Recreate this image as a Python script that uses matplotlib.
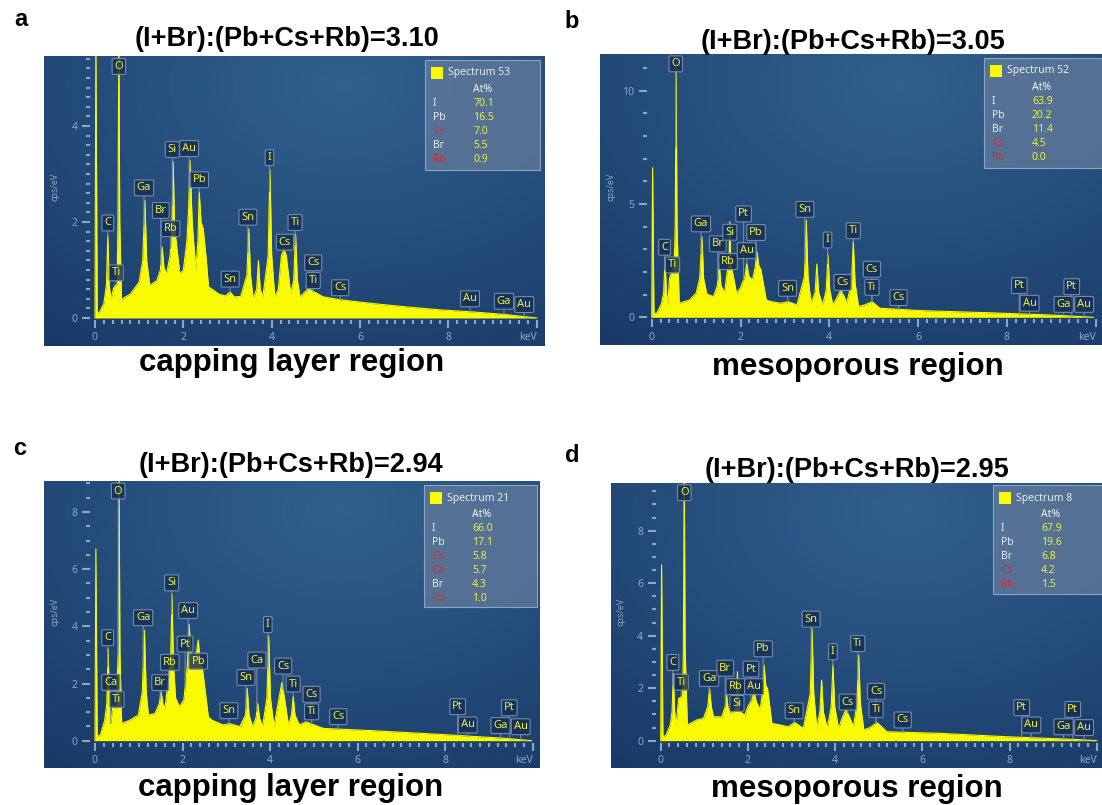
import numpy as np
import matplotlib.pyplot as plt
from matplotlib.patches import Rectangle
from matplotlib.ticker import MultipleLocator
from matplotlib.transforms import Affine2D

# ---------------- data ----------------
# (energy keV, counts cps/eV) vertices of each spectrum outline

# panel a - capping layer, Spectrum 53
spectrum_a = [(0.0, 0), (0.02, 6.0), (0.05, 0.1), (0.1, 0.12), (0.2, 0.3), (0.26, 0.7),
              (0.29, 1.72), (0.32, 0.7), (0.36, 0.38), (0.42, 0.62), (0.46, 0.68), (0.5, 0.7),
              (0.52, 2.0), (0.54, 6.0), (0.56, 2.0), (0.6, 0.37), (0.65, 0.42), (0.8, 0.5),
              (1.0, 0.75), (1.08, 1.2), (1.13, 2.45), (1.17, 1.2), (1.24, 0.68), (1.4, 0.78),
              (1.48, 1.0), (1.52, 1.48), (1.56, 1.05), (1.62, 0.92), (1.7, 1.3), (1.74, 1.9),
              (1.77, 3.25), (1.8, 1.9), (1.92, 0.92), (2.0, 1.0), (2.08, 1.6), (2.12, 2.3),
              (2.15, 3.28), (2.2, 2.0), (2.28, 1.0), (2.33, 1.6), (2.36, 2.63), (2.4, 2.0),
              (2.45, 1.86), (2.52, 1.2), (2.57, 0.65), (2.65, 0.6), (2.8, 0.5), (2.95, 0.46),
              (3.06, 0.54), (3.15, 0.44), (3.3, 0.45), (3.44, 0.9), (3.48, 1.86), (3.52, 0.9),
              (3.58, 0.4), (3.66, 0.6), (3.7, 1.2), (3.74, 0.6), (3.8, 0.44), (3.92, 1.3),
              (3.96, 3.08), (4.0, 1.3), (4.07, 0.44), (4.15, 0.6), (4.22, 1.3), (4.28, 1.44),
              (4.33, 1.3), (4.43, 0.5), (4.5, 0.8), (4.54, 1.76), (4.58, 0.8), (4.64, 0.44),
              (4.83, 0.61), (5.17, 0.44), (5.55, 0.38), (6.3, 0.3), (7.06, 0.23), (7.81, 0.17),
              (8.57, 0.125), (9.32, 0.07), (10.0, 0.0)]
peaks_a = ['O', 'C', 'Ti', 'Ga', 'Br', 'Rb', 'Si', 'Au', 'Pb', 'Sn', 'Sn', 'I', 'Ti', 'Cs',
           'Cs', 'Ti', 'Cs', 'Au', 'Ga', 'Au']
peak_kev_a = [0.54, 0.29, 0.48, 1.11, 1.49, 1.71, 1.75, 2.13, 2.36, 3.46, 3.06, 3.95, 4.53,
              4.30, 4.94, 4.94, 5.55, 8.49, 9.26, 9.72]
label_y_a = [5.24, 1.98, 0.94, 2.71, 2.24, 1.86, 3.51, 3.53, 2.88, 2.10, 0.81, 3.34, 1.99,
             1.58, 1.15, 0.78, 0.63, 0.40, 0.35, 0.28]
legend_el_a = ['I', 'Pb', 'Cs', 'Br', 'Rb']
legend_at_a = ['70.1', '16.5', '7.0', '5.5', '0.9']

# panel b - mesoporous, Spectrum 52
spectrum_b = [(0.0, 0), (0.02, 6.6), (0.05, 0.15), (0.12, 0.2), (0.22, 0.6), (0.27, 1.1),
              (0.3, 2.6), (0.33, 1.1), (0.36, 0.54), (0.4, 1.7), (0.45, 2.0), (0.5, 1.9),
              (0.53, 4.0), (0.55, 11.0), (0.57, 4.0), (0.62, 0.62), (0.85, 0.76), (1.0, 1.06),
              (1.08, 1.7), (1.13, 3.56), (1.17, 1.7), (1.24, 1.03), (1.39, 0.91), (1.48, 1.4),
              (1.52, 2.38), (1.56, 1.4), (1.64, 1.06), (1.7, 2.0), (1.74, 2.3), (1.76, 4.22),
              (1.78, 2.3), (1.83, 1.9), (1.91, 1.06), (2.0, 1.3), (2.1, 1.8), (2.14, 2.38),
              (2.19, 1.8), (2.27, 1.65), (2.33, 2.2), (2.37, 2.9), (2.41, 2.3), (2.46, 2.09),
              (2.58, 0.76), (2.7, 0.69), (2.9, 0.62), (3.08, 0.69), (3.27, 0.54), (3.44, 1.8),
              (3.48, 4.29), (3.52, 1.8), (3.59, 0.62), (3.68, 1.1), (3.72, 2.35), (3.76, 1.1),
              (3.85, 0.54), (3.93, 1.2), (3.97, 2.75), (4.01, 1.2), (4.08, 0.54), (4.18, 0.9),
              (4.26, 1.2), (4.34, 0.9), (4.39, 0.62), (4.5, 1.5), (4.54, 3.34), (4.58, 1.5),
              (4.66, 0.47), (4.8, 0.55), (4.96, 0.69), (5.14, 0.4), (6.12, 0.29), (7.62, 0.2),
              (9.12, 0.09), (9.95, 0.0)]
peaks_b = ['O', 'C', 'Ti', 'Ga', 'Br', 'Si', 'Rb', 'Pt', 'Au', 'Pb', 'Sn', 'I', 'Ti', 'Cs',
           'Cs', 'Ti', 'Sn', 'Cs', 'Pt', 'Au', 'Pt', 'Ga', 'Au']
peak_kev_b = [0.54, 0.29, 0.47, 1.11, 1.49, 1.76, 1.72, 2.07, 2.14, 2.35, 3.45, 3.96, 4.54,
              4.30, 4.96, 4.96, 3.06, 5.56, 8.28, 8.51, 9.46, 9.28, 9.74]
label_y_b = [11.18, 3.09, 2.31, 4.12, 3.24, 3.75, 2.46, 4.56, 2.94, 3.74, 4.76, 3.41, 3.82,
             1.54, 2.12, 1.32, 1.28, 0.87, 1.40, 0.62, 1.35, 0.57, 0.57]
legend_el_b = ['I', 'Pb', 'Br', 'Cs', 'Rb']
legend_at_b = ['63.9', '20.2', '11.4', '4.5', '0.0']

# panel c - capping layer, Spectrum 21
spectrum_c = [(0.0, 0), (0.02, 6.7), (0.05, 0.15), (0.12, 0.2), (0.22, 0.7), (0.27, 1.3),
              (0.3, 3.22), (0.33, 1.3), (0.36, 0.6), (0.41, 1.25), (0.48, 1.1), (0.53, 3.0),
              (0.55, 9.5), (0.57, 3.0), (0.61, 0.6), (0.8, 0.72), (0.99, 0.9), (1.08, 1.7),
              (1.13, 3.86), (1.17, 1.7), (1.22, 0.9), (1.37, 0.95), (1.47, 1.3), (1.51, 1.71),
              (1.55, 1.3), (1.6, 1.13), (1.7, 2.47), (1.73, 3.0), (1.76, 5.12), (1.79, 2.8),
              (1.84, 1.5), (1.93, 1.19), (2.03, 1.42), (2.11, 2.6), (2.15, 4.07), (2.2, 3.0),
              (2.29, 2.93), (2.33, 3.2), (2.36, 3.52), (2.4, 2.8), (2.46, 2.47), (2.59, 0.84),
              (2.67, 0.72), (2.93, 0.55), (3.07, 0.6), (3.31, 0.49), (3.44, 0.9), (3.48, 1.83),
              (3.52, 0.9), (3.6, 0.49), (3.68, 0.8), (3.72, 1.3), (3.76, 0.8), (3.83, 0.49),
              (3.93, 1.5), (3.97, 3.66), (4.01, 1.5), (4.09, 0.49), (4.22, 1.6), (4.27, 2.03),
              (4.32, 1.6), (4.42, 0.55), (4.49, 0.9), (4.53, 1.54), (4.57, 0.9), (4.67, 0.55),
              (4.82, 0.66), (5.22, 0.43), (6.36, 0.35), (7.89, 0.22), (9.41, 0.08), (9.98, 0.0)]
peaks_c = ['O', 'C', 'Ca', 'Ti', 'Ga', 'Si', 'Rb', 'Br', 'Au', 'Pt', 'Pb', 'Sn', 'Ca', 'I',
           'Cs', 'Ti', 'Cs', 'Ti', 'Sn', 'Cs', 'Pt', 'Au', 'Pt', 'Ga', 'Au']
peak_kev_c = [0.53, 0.29, 0.36, 0.50, 1.10, 1.75, 1.71, 1.49, 2.13, 2.06, 2.36, 3.45, 3.70,
              3.95, 4.30, 4.53, 4.95, 4.95, 3.06, 5.56, 8.29, 8.52, 9.47, 9.27, 9.73]
label_y_c = [8.73, 3.60, 2.04, 1.44, 4.30, 5.52, 2.74, 2.03, 4.55, 3.38, 2.78, 2.21, 2.82,
             4.06, 2.61, 1.98, 1.62, 1.01, 1.05, 0.84, 1.19, 0.55, 1.15, 0.53, 0.49]
legend_el_c = ['I', 'Pb', 'Cs', 'Ca', 'Br', 'Rb']
legend_at_c = ['66.0', '17.1', '5.8', '5.7', '4.3', '1.0']

# panel d - mesoporous, Spectrum 8
spectrum_d = [(0.0, 0), (0.02, 6.7), (0.05, 0.15), (0.12, 0.2), (0.22, 0.6), (0.26, 1.1),
              (0.29, 2.57), (0.32, 1.1), (0.35, 0.53), (0.41, 1.6), (0.47, 1.68), (0.5, 1.5),
              (0.52, 3.5), (0.54, 10.5), (0.56, 3.5), (0.61, 0.6), (0.83, 0.79), (0.98, 0.85),
              (1.08, 1.3), (1.12, 1.99), (1.16, 1.3), (1.21, 0.91), (1.4, 0.91), (1.48, 1.3),
              (1.51, 1.74), (1.54, 1.3), (1.59, 1.04), (1.68, 1.1), (1.74, 1.5), (1.76, 2.63),
              (1.78, 1.5), (1.82, 1.1), (1.93, 0.98), (2.0, 1.3), (2.1, 1.6), (2.14, 1.87),
              (2.19, 1.5), (2.28, 1.17), (2.34, 1.9), (2.37, 2.88), (2.41, 2.1), (2.45, 1.99),
              (2.55, 0.66), (2.74, 0.6), (2.93, 0.53), (3.07, 0.7), (3.27, 0.47), (3.43, 1.8),
              (3.47, 4.28), (3.51, 1.8), (3.58, 0.47), (3.65, 1.1), (3.69, 2.31), (3.73, 1.1),
              (3.82, 0.47), (3.91, 1.3), (3.95, 2.88), (3.99, 1.3), (4.08, 0.47), (4.17, 0.9),
              (4.25, 1.17), (4.33, 0.9), (4.42, 0.53), (4.5, 1.4), (4.54, 3.26), (4.58, 1.4),
              (4.66, 0.41), (4.8, 0.5), (4.96, 0.69), (5.19, 0.34), (6.41, 0.28), (7.94, 0.15),
              (9.47, 0.05), (10.0, 0.0)]
peaks_d = ['O', 'C', 'Ti', 'Ga', 'Br', 'Rb', 'Si', 'Pt', 'Au', 'Pb', 'Sn', 'I', 'Ti', 'Cs',
           'Cs', 'Ti', 'Sn', 'Cs', 'Pt', 'Au', 'Pt', 'Ga', 'Au']
peak_kev_d = [0.54, 0.28, 0.47, 1.11, 1.48, 1.71, 1.75, 2.07, 2.14, 2.35, 3.45, 3.95, 4.52,
              4.29, 4.94, 4.94, 3.06, 5.55, 8.28, 8.50, 9.45, 9.24, 9.71]
label_y_d = [9.45, 2.98, 2.23, 2.37, 2.76, 2.06, 1.42, 2.73, 2.06, 3.50, 4.63, 3.39, 3.70,
             1.47, 1.88, 1.19, 1.14, 0.79, 1.26, 0.60, 1.19, 0.53, 0.50]
legend_el_d = ['I', 'Pb', 'Br', 'Cs', 'Rb']
legend_at_d = ['67.9', '19.6', '6.8', '4.2', '1.5']

letters = ['a', 'b', 'c', 'd']
ratios = ['3.10', '3.05', '2.94', '2.95']
regions = ['capping layer region', 'mesoporous region', 'capping layer region', 'mesoporous region']
spectra = ['Spectrum 53', 'Spectrum 52', 'Spectrum 21', 'Spectrum 8']
y_major = [[0, 2, 4], [0, 5, 10], [0, 2, 4, 6, 8], [0, 2, 4, 6, 8]]
y_minor = [0.2, 1.0, 0.5, 0.5]

# ---------------- layout (pixels of the 1102x805 canvas) ----------------
W, H = 1102, 805
layout = [
    dict(box=(44, 56, 545, 346), origin=(95, 318), pk=44.17, pc=48.0,
         legend=(425, 60, 540, 170), ylab=(55, 187), letter=(21, 20), title=(287, 39), cap=(292, 363)),
    dict(box=(600, 54, 1102, 345), origin=(651.7, 317.3), pk=44.4, pc=22.67,
         legend=(984, 58, 1102, 168), ylab=(611, 187), letter=(572, 22), title=(853, 42), cap=(858, 367)),
    dict(box=(44, 481, 540, 768), origin=(95, 740.7), pk=43.75, pc=28.6,
         legend=(424, 485, 537, 607), ylab=(55, 612), letter=(20, 448), title=(291, 465), cap=(291, 788)),
    dict(box=(611, 483, 1102, 768), origin=(660.7, 740.7), pk=43.6, pc=26.25,
         legend=(993, 485, 1102, 594), ylab=(621, 612), letter=(572, 455), title=(857, 470), cap=(857, 789)),
]

YELLOW = '#fafa00'
TICK = '#8ea6c6'
LABEL_YEL = '#eeee3a'
RED_EL = {'Cs', 'Rb', 'Ca'}

plt.rcParams['font.family'] = ['Noto Sans', 'DejaVu Sans']

fig = plt.figure(figsize=(W / 100, H / 100), dpi=100)
pxT = Affine2D().scale(1 / W, -1 / H).translate(0, 1) + fig.transFigure


def px_rect(l, t, r, b):
    return [l / W, 1 - b / H, (r - l) / W, (b - t) / H]


# background gradient of the instrument screen
gy, gx = np.mgrid[0:1:150j, 0:1:250j]
dist = np.clip(np.hypot((gx - 0.6) / 0.95, (gy - 0.1) / 1.1), 0, 1)
inner = np.array([0.19, 0.38, 0.56])
outer = np.array([0.10, 0.23, 0.41])
grad = inner + (outer - inner) * dist[..., None]

data = [
    (spectrum_a, peaks_a, peak_kev_a, label_y_a, legend_el_a, legend_at_a),
    (spectrum_b, peaks_b, peak_kev_b, label_y_b, legend_el_b, legend_at_b),
    (spectrum_c, peaks_c, peak_kev_c, label_y_c, legend_el_c, legend_at_c),
    (spectrum_d, peaks_d, peak_kev_d, label_y_d, legend_el_d, legend_at_d),
]

for i, (spec, names, pkev, laby, lel, lat) in enumerate(data):
    en = [p[0] for p in spec]
    ct = [p[1] for p in spec]
    lay = layout[i]
    l, t, r, b = lay['box']
    x0, y0 = lay['origin']
    pk, pc = lay['pk'], lay['pc']

    bg = fig.add_axes(px_rect(l, t, r, b), zorder=0)
    bg.imshow(grad, extent=[0, 1, 0, 1], aspect='auto')
    bg.set_xlim(0, 1)
    bg.set_ylim(0, 1)
    bg.axis('off')

    ax = fig.add_axes(px_rect(x0 - 5, t, r, y0 + 2), zorder=1)
    ax.patch.set_alpha(0)
    for s in ax.spines.values():
        s.set_visible(False)
    ax.set_xlim(-5 / pk, (r - x0) / pk)
    ax.set_ylim(-2 / pc, (y0 - t) / pc)

    ax.fill_between(en, ct, 0, color=YELLOW, lw=0, zorder=2)
    ax.plot(en, ct, color=YELLOW, lw=0.8, zorder=2)

    ax.set_xticks([0, 2, 4, 6, 8, 10])
    ax.set_xticklabels(['0', '2', '4', '6', '8', 'keV'])
    ax.get_xticklabels()[-1].set_horizontalalignment('right')
    ax.xaxis.set_minor_locator(MultipleLocator(0.2))
    ax.set_yticks(y_major[i])
    ax.yaxis.set_minor_locator(MultipleLocator(y_minor[i]))
    ax.tick_params(which='major', direction='out', length=6, width=1.5, color=TICK,
                   labelcolor=TICK, labelsize=7.5, pad=3)
    ax.tick_params(which='minor', direction='out', length=3.2, width=1.5, color=TICK)

    # peak identification tags
    for nm, xk, yl in zip(names, pkev, laby):
        tip = min(np.interp(xk, en, ct), yl)
        ax.annotate(nm, xy=(xk, tip), xytext=(xk, yl), ha='center', va='center',
                    fontsize=8, color=LABEL_YEL, zorder=4, annotation_clip=False,
                    bbox=dict(boxstyle='round,pad=0.22,rounding_size=0.12',
                              fc=(0.09, 0.18, 0.32, 0.82), ec='#6f8db3', lw=0.8),
                    arrowprops=dict(arrowstyle='-', color='#6f8db3', lw=0.8,
                                    shrinkA=0, shrinkB=0))

    # results table
    ll, lt, lr, lb = lay['legend']
    fig.add_artist(Rectangle((ll, lt), lr - ll, lb - lt, transform=pxT, zorder=5,
                             fc=(0.40, 0.49, 0.62, 0.72), ec=(0.55, 0.64, 0.76), lw=0.8))
    fig.add_artist(Rectangle((ll + 6, lt + 7), 12, 12, transform=pxT, zorder=6,
                             fc=YELLOW, ec='none'))
    fig.text(ll + 23, lt + 13, spectra[i], transform=pxT, fontsize=7.5, color='#e8ecf2',
             va='center', ha='left', zorder=7)
    fig.text(ll + 48, lt + 29, 'At%', transform=pxT, fontsize=7.5, color='#f4f6f8',
             fontweight='bold', va='center', ha='left', zorder=7)
    for k, (el, val) in enumerate(zip(lel, lat)):
        yy = lt + 43 + 14 * k
        fig.text(ll + 8, yy, el, transform=pxT, fontsize=7.5,
                 color='#d42a2a' if el in RED_EL else '#e6e9ee',
                 va='center', ha='left', zorder=7)
        fig.text(ll + 48, yy, val, transform=pxT, fontsize=7.5, color=LABEL_YEL,
                 va='center', ha='left', zorder=7)

    fig.text(*lay['ylab'], 'cps/eV', transform=pxT, fontsize=6.5, color=TICK,
             rotation=90, va='center', ha='center', zorder=7)

    fig.text(*lay['letter'], letters[i], transform=pxT, fontsize=17, fontweight='bold',
             family='Liberation Sans', va='center', ha='center')
    fig.text(*lay['title'], '(I+Br):(Pb+Cs+Rb)=' + ratios[i], transform=pxT, fontsize=19.5,
             fontweight='bold', family='Liberation Sans', va='center', ha='center')
    fig.text(*lay['cap'], regions[i], transform=pxT, fontsize=22.5, fontweight='bold',
             family='Liberation Sans', va='center', ha='center')

fig.savefig('out.png', dpi=100)
